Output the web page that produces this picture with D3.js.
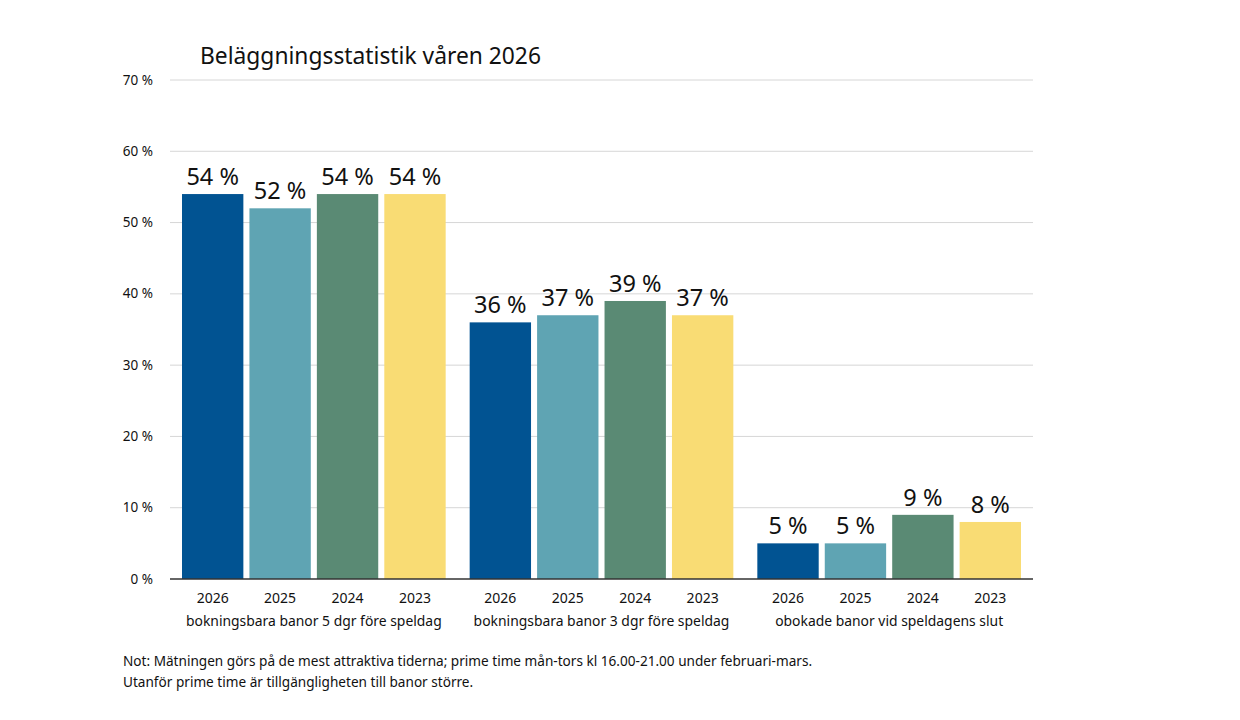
<!DOCTYPE html>
<html>
<head>
<meta charset="utf-8">
<script src="https://cdn.jsdelivr.net/npm/d3@7"></script>
<style>
  body { margin: 0; background: #fff; }
  text { font-family: "Noto Sans", "Open Sans", sans-serif; fill: #111; }
</style>
</head>
<body>
<div id="chart"></div>
<script>
// Beläggningsstatistik, grouped bars
var categories = ["bokningsbara banor 5 dgr före speldag", "bokningsbara banor 3 dgr före speldag", "obokade banor vid speldagens slut"];
var years = ["2026", "2025", "2024", "2023"];
var values2026 = [54, 36, 5];
var values2025 = [52, 37, 5];
var values2024 = [54, 39, 9];
var values2023 = [54, 37, 8];
var yTicks = [0, 10, 20, 30, 40, 50, 60, 70];
var colors = ["#015392", "#5fa4b3", "#5a8a74", "#f9dc74"];

var series = [values2026, values2025, values2024, values2023];
var data = categories.map(function(c, i) {
    return { cat: c, vals: years.map(function(y, j) { return { year: y, value: series[j][i], idx: j }; }) };
});

var svgWidth = 1240, svgHeight = 720;
var margin = { top: 80, right: 207, bottom: 141, left: 170 };
var chartW = svgWidth - margin.left - margin.right;
var chartH = svgHeight - margin.top - margin.bottom;

var svg = d3.select("#chart").append("svg")
    .attr("width", svgWidth)
    .attr("height", svgHeight);

var g = svg.append("g")
    .attr("transform", `translate(${margin.left}, ${margin.top})`);

var x0 = d3.scaleBand().domain(categories).range([0, chartW]);
var x1 = d3.scaleBand().domain(years).range([12, x0.bandwidth() - 12]).paddingInner(0.09);
var y = d3.scaleLinear().domain([0, 70]).range([chartH, 0]);

// grid lines
g.selectAll(".grid")
    .data(yTicks.filter(d => d > 0))
    .enter()
    .append("line")
    .attr("x1", 0)
    .attr("x2", chartW)
    .attr("y1", d => y(d))
    .attr("y2", d => y(d))
    .attr("stroke", "#d6d6d6")
    .attr("stroke-width", 1);

// y tick labels
g.selectAll(".ytick")
    .data(yTicks)
    .enter()
    .append("text")
    .attr("x", -17)
    .attr("y", d => y(d) + 4.5)
    .attr("text-anchor", "end")
    .attr("font-size", "13.5px")
    .text(d => d + " %");

var groups = g.selectAll(".group")
    .data(data)
    .enter()
    .append("g")
    .attr("transform", d => `translate(${x0(d.cat)}, 0)`);

groups.selectAll("rect")
    .data(d => d.vals)
    .enter()
    .append("rect")
    .attr("x", d => x1(d.year))
    .attr("y", d => y(d.value))
    .attr("width", x1.bandwidth())
    .attr("height", d => chartH - y(d.value))
    .attr("fill", d => colors[d.idx]);

groups.selectAll(".val")
    .data(d => d.vals)
    .enter()
    .append("text")
    .attr("x", d => x1(d.year) + x1.bandwidth() / 2)
    .attr("y", d => y(d.value) - 9)
    .attr("text-anchor", "middle")
    .attr("font-size", "23.5px")
    .text(d => d.value + " %");

groups.selectAll(".yr")
    .data(d => d.vals)
    .enter()
    .append("text")
    .attr("x", d => x1(d.year) + x1.bandwidth() / 2)
    .attr("y", chartH + 24)
    .attr("text-anchor", "middle")
    .attr("font-size", "14px")
    .text(d => d.year);

groups.append("text")
    .attr("x", x0.bandwidth() / 2)
    .attr("y", chartH + 47)
    .attr("text-anchor", "middle")
    .attr("font-size", "13.9px")
    .text(d => d.cat);

// baseline
g.append("line")
    .attr("x1", 0)
    .attr("x2", chartW)
    .attr("y1", chartH)
    .attr("y2", chartH)
    .attr("stroke", "#333")
    .attr("stroke-width", 1.5);

// title
svg.append("text")
    .attr("x", 200)
    .attr("y", 64)
    .attr("font-size", "22.8px")
    .text("Beläggningsstatistik våren 2026");

// note
var note = svg.append("text")
    .attr("font-size", "13.6px");
note.append("tspan").attr("x", 123).attr("y", 666)
    .text("Not: Mätningen görs på de mest attraktiva tiderna; prime time mån-tors kl 16.00-21.00 under februari-mars.");
note.append("tspan").attr("x", 123).attr("y", 687)
    .text("Utanför prime time är tillgängligheten till banor större.");
</script>
</body>
</html>
